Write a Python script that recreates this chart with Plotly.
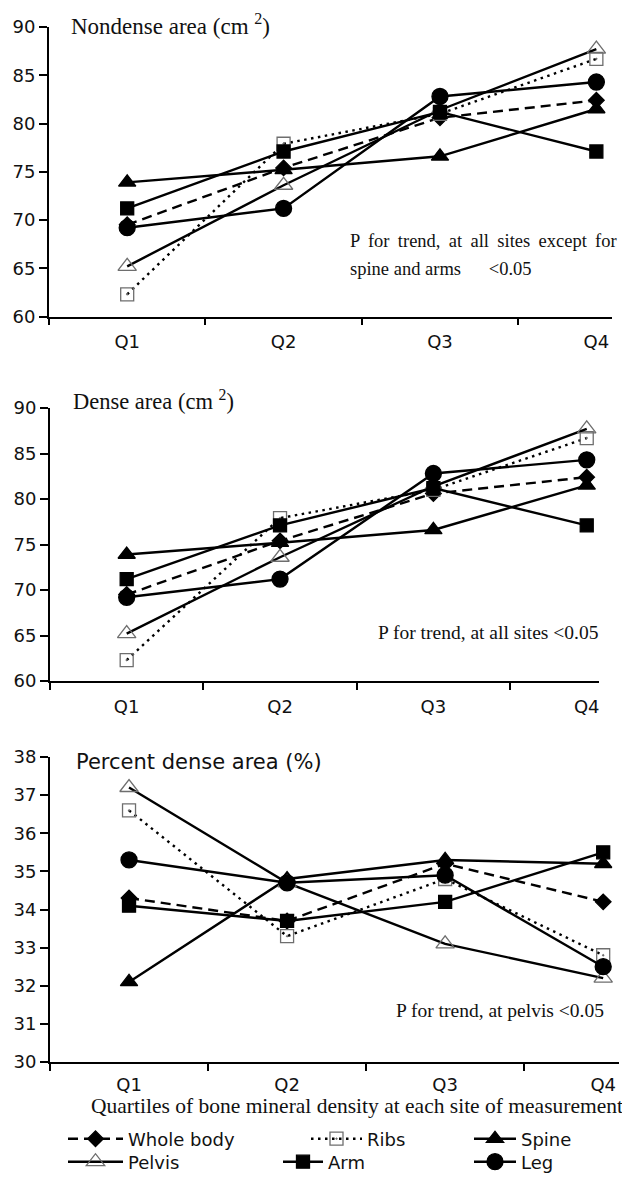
import plotly.graph_objects as go

# The page body has an 8px default margin, so the figure is 8px smaller and
# every reference pixel position is shifted by 8px.
OFF = 8
W, H = 630 - OFF, 1186 - OFF

quartiles = ["Q1", "Q2", "Q3", "Q4"]
series_names = ["Whole body", "Ribs", "Spine", "Pelvis", "Arm", "Leg"]

# Nondense area (cm2)
nondense_whole_body = [69.5, 75.4, 80.6, 82.4]
nondense_ribs = [62.3, 77.9, 81.0, 86.7]
nondense_spine = [73.9, 75.2, 76.6, 81.5]
nondense_pelvis = [65.2, 73.6, 81.4, 87.7]
nondense_arm = [71.2, 77.1, 81.2, 77.1]
nondense_leg = [69.2, 71.2, 82.8, 84.3]

# Dense area (cm2)
dense_whole_body = [69.5, 75.4, 80.6, 82.4]
dense_ribs = [62.3, 77.9, 81.0, 86.7]
dense_spine = [73.9, 75.2, 76.6, 81.5]
dense_pelvis = [65.2, 73.6, 81.4, 87.7]
dense_arm = [71.2, 77.1, 81.2, 77.1]
dense_leg = [69.2, 71.2, 82.8, 84.3]

# Percent dense area (%)
pct_whole_body = [34.3, 33.7, 35.2, 34.2]
pct_ribs = [36.6, 33.3, 34.8, 32.8]
pct_spine = [32.1, 34.8, 35.3, 35.2]
pct_pelvis = [37.2, 34.7, 33.1, 32.2]
pct_arm = [34.1, 33.7, 34.2, 35.5]
pct_leg = [35.3, 34.7, 34.9, 32.5]

panels = [
    [nondense_whole_body, nondense_ribs, nondense_spine, nondense_pelvis, nondense_arm, nondense_leg],
    [dense_whole_body, dense_ribs, dense_spine, dense_pelvis, dense_arm, dense_leg],
    [pct_whole_body, pct_ribs, pct_spine, pct_pelvis, pct_arm, pct_leg],
]

styles = {
    "Whole body": dict(dash="10px,6px", symbol="diamond", mcolor="black", msize=12),
    "Ribs": dict(dash="2.5px,4.5px", symbol="square-open-dot", mcolor="#6e6e6e", msize=13),
    "Spine": dict(dash="solid", symbol="triangle-up", mcolor="black", msize=15),
    "Pelvis": dict(dash="solid", symbol="triangle-up-open", mcolor="#6e6e6e", msize=16),
    "Arm": dict(dash="solid", symbol="square", mcolor="black", msize=13),
    "Leg": dict(dash="solid", symbol="circle", mcolor="black", msize=16),
}

# legend placement in reference pixels: (legend id, left x, row centre y, item width)
legend_pos = {
    "Whole body": ("legend", 63, 1139, 55),
    "Ribs": ("legend2", 306, 1139, 51),
    "Spine": ("legend3", 469, 1139, 42),
    "Pelvis": ("legend4", 63, 1162, 55),
    "Arm": ("legend5", 278, 1162, 40),
    "Leg": ("legend6", 469, 1162, 42),
}

def px(x):
    return (x - OFF) / W

def py(y):
    return 1 - (y - OFF) / H

# pixel geometry of the three panels: (x0, x1, ytop, ybottom, xmax, yrange, dtick, x label gap)
geoms = [
    (49, 612, 27, 316.5, 3.10, [60, 90], 5, 8),
    (50, 599, 408, 681, 3.08, [60, 90], 5, 8),
    (50, 619, 757, 1062, 3.10, [30, 38], 1, 5),
]

fig = go.Figure()
xpos = list(range(len(quartiles)))

for pi, data in enumerate(panels):
    sfx = "" if pi == 0 else str(pi + 1)
    for name, vals in zip(series_names, data):
        st = styles[name]
        fig.add_trace(go.Scatter(
            x=xpos, y=vals, name=name, mode="lines+markers",
            line=dict(color="black", width=2.4, dash=st["dash"]),
            marker=dict(symbol=st["symbol"], size=st["msize"], color=st["mcolor"],
                        line=dict(width=1.3, color=st["mcolor"])),
            xaxis="x" + sfx, yaxis="y" + sfx,
            showlegend=(pi == 0), legend=legend_pos[name][0], cliponaxis=False,
        ))

tickfont = dict(family="DejaVu Sans", size=18, color="#111")
for pi, (x0, x1, yt, yb, xmax, yr, dt, xtl) in enumerate(geoms):
    sfx = "" if pi == 0 else str(pi + 1)
    fig.update_layout(**{
        "xaxis" + sfx: dict(
            domain=[px(x0), px(x1)], range=[-0.5, xmax], anchor="y" + sfx,
            tickmode="array", tickvals=xpos, ticktext=quartiles,
            ticks="outside", ticklen=xtl, tickcolor="rgba(0,0,0,0)",
            showline=True, linecolor="black", linewidth=1.8,
            showgrid=False, zeroline=False, tickfont=tickfont, automargin=False,
            minor=dict(tickmode="array", tickvals=[-0.5, 0.5, 1.5, 2.5],
                       ticks="outside", ticklen=7, tickcolor="black", tickwidth=1.8,
                       showgrid=False),
        ),
        "yaxis" + sfx: dict(
            domain=[py(yb), py(yt)], range=yr, anchor="x" + sfx,
            tickmode="linear", tick0=yr[0], dtick=dt,
            ticks="outside", ticklen=8, tickcolor="black", tickwidth=1.8,
            showline=True, linecolor="black", linewidth=1.8,
            showgrid=False, zeroline=False, tickfont=tickfont, automargin=False,
        ),
    })

serif = "Liberation Serif"
black = "#111"
thin = "&#8201;"
annots = [
    dict(text="Nondense area (cm <sup>2</sup>)", x=px(69), y=py(24), xanchor="left", yanchor="middle",
         font=dict(family=serif, size=23, color=black)),
    dict(text=("P for trend, at all sites except for").replace(" ", " " + thin),
         x=px(348), y=py(241), xanchor="left", yanchor="middle",
         font=dict(family=serif, size=18.5, color=black)),
    dict(text="spine and arms&nbsp; &nbsp; &nbsp; &lt;0.05", x=px(348), y=py(269), xanchor="left",
         yanchor="middle", font=dict(family=serif, size=18.5, color=black)),
    dict(text="Dense area (cm <sup>2</sup>)", x=px(71), y=py(400), xanchor="left", yanchor="middle",
         font=dict(family=serif, size=22.5, color=black)),
    dict(text="P for trend, at all sites &lt;0.05", x=px(600), y=py(632), xanchor="right",
         yanchor="middle", font=dict(family=serif, size=19.5, color=black)),
    dict(text="Percent dense area (%)", x=px(74), y=py(762), xanchor="left", yanchor="middle",
         font=dict(family="DejaVu Sans", size=21, color=black)),
    dict(text="P for trend, at pelvis &lt;0.05", x=px(606), y=py(1010), xanchor="right",
         yanchor="middle", font=dict(family=serif, size=19.5, color=black)),
    dict(text="Quartiles of bone mineral density at each site of measurement", x=px(357), y=py(1106),
         xanchor="center", yanchor="middle", font=dict(family=serif, size=21.5, color=black)),
]
for a in annots:
    a.update(xref="paper", yref="paper", showarrow=False)

layout_legends = {}
for name, (lid, lx, ly, iw) in legend_pos.items():
    layout_legends[lid] = dict(
        x=px(lx), y=py(ly), xanchor="left", yanchor="middle", orientation="v",
        font=dict(family="DejaVu Sans", size=18, color=black),
        itemwidth=iw, bgcolor="rgba(0,0,0,0)", borderwidth=0,
    )

fig.update_layout(
    width=W, height=H, margin=dict(l=0, r=0, t=0, b=0, pad=0, autoexpand=False),
    paper_bgcolor="white", plot_bgcolor="white",
    annotations=annots,
    **layout_legends,
)

fig.write_html("out.html")
